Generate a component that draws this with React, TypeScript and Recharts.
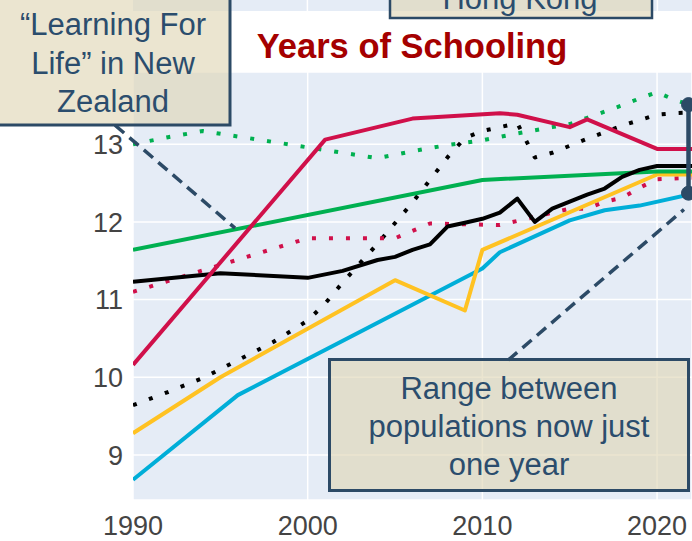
import React from "react"
import {
  LineChart,
  Line,
  XAxis,
  YAxis,
  CartesianGrid,
  ReferenceLine,
  ReferenceDot
} from "recharts"

// years of schooling by population
const xTicks = [1990, 2000, 2010, 2020]
const yTicks = [9, 10, 11, 12, 13]

const greenDotted = [
  [1990, 13.0], [1992, 13.09], [1994, 13.17], [1996, 13.1], [1998, 13.03],
  [2000, 12.96], [2002, 12.89], [2004, 12.82], [2006, 12.91], [2008, 12.99],
  [2010, 13.05], [2012, 13.14], [2014, 13.22], [2015, 13.26], [2016, 13.34],
  [2017, 13.42], [2018, 13.5], [2019, 13.59], [2020, 13.67], [2021, 13.57],
  [2022, 13.5]
]
const blackDotted = [
  [1990, 9.64], [1992, 9.81], [1994, 9.99], [1996, 10.22], [1998, 10.45],
  [2000, 10.73], [2001, 10.95], [2002, 11.22], [2004, 11.72], [2006, 12.25],
  [2008, 12.83], [2009, 13.08], [2010, 13.17], [2011, 13.22], [2012, 13.27],
  [2013, 12.83], [2014, 12.89], [2016, 13.07], [2018, 13.24], [2020, 13.38],
  [2021, 13.4], [2022, 13.41]
]
const crimsonDotted = [
  [1990, 11.1], [2000, 11.79], [2005, 11.79], [2007, 11.98], [2011, 11.96],
  [2015, 12.17], [2016, 12.17], [2017, 12.26], [2018, 12.31], [2019, 12.44],
  [2020, 12.55], [2022, 12.57]
]
const cyanSolid = [
  [1990, 8.68], [1996, 9.77], [2010, 11.4], [2011, 11.61], [2015, 12.02],
  [2017, 12.15], [2019, 12.21], [2022, 12.36]
]
const yellowSolid = [
  [1990, 9.28], [1995, 10.0], [2005, 11.25], [2009, 10.86], [2010, 11.64],
  [2020, 12.61], [2022, 12.61]
]
const greenSolid = [[1990, 11.64], [2010, 12.54], [2020, 12.65], [2022, 12.65]]
const blackSolid = [
  [1990, 11.23], [1995, 11.34], [2000, 11.28], [2002, 11.37], [2004, 11.51],
  [2005, 11.55], [2006, 11.64], [2007, 11.71], [2008, 11.94], [2009, 11.99],
  [2010, 12.04], [2011, 12.12], [2012, 12.3], [2013, 12.0], [2014, 12.17],
  [2015, 12.26], [2016, 12.35], [2017, 12.43], [2018, 12.58], [2019, 12.67],
  [2020, 12.72], [2022, 12.72]
]
const crimsonSolid = [
  [1990, 10.16], [2001, 13.06], [2006, 13.33], [2011, 13.4], [2012, 13.38],
  [2015, 13.22], [2016, 13.32], [2020, 12.94], [2022, 12.94]
]

// range marker at the right edge and the two callout pointers
const rangeYear = 2021.8
const rangeLow = 12.37
const rangeHigh = 13.51
const nzPointer = [[1988.97, 13.245], [1995.84, 11.92]]
const rangePointer = [[2011.47, 10.22], [2021.54, 12.16]]

const toPoints = (pairs: number[][]) => pairs.map(([year, value]) => ({ year, value }))

const series = [
  { key: "greenDotted", data: greenDotted, color: "#00b050", dotted: true },
  { key: "blackDotted", data: blackDotted, color: "#000000", dotted: true },
  { key: "crimsonDotted", data: crimsonDotted, color: "#d0104a", dotted: true },
  { key: "cyanSolid", data: cyanSolid, color: "#00aed8", dotted: false },
  { key: "yellowSolid", data: yellowSolid, color: "#ffc222", dotted: false },
  { key: "greenSolid", data: greenSolid, color: "#00b050", dotted: false },
  { key: "blackSolid", data: blackSolid, color: "#000000", dotted: false },
  { key: "crimsonSolid", data: crimsonSolid, color: "#d0104a", dotted: false }
]

const FONT = "'Liberation Sans', Arial, sans-serif"
const NAVY = "#2c4a66"
const TEXT = "#2b4d6d"
const BOX_FILL = "rgba(222,213,179,0.62)"
const PLOT_BG = "#e5ecf6"

export default function App() {
  const seg = (p: number[][]) => [
    { x: p[0][0], y: p[0][1] },
    { x: p[1][0], y: p[1][1] }
  ]

  return (
    <div style={{ position: "relative", width: 692, height: 541, overflow: "hidden", background: "#fff", fontFamily: FONT }}>
      <style>{"body{margin:0}"}</style>
      <LineChart width={692} height={541} margin={{ top: 72, right: 0, bottom: 0, left: 0 }}>
        <CartesianGrid fill={PLOT_BG} stroke="#ffffff" strokeWidth={1.5} />
        <XAxis
          dataKey="year"
          type="number"
          domain={[1990, 2022]}
          ticks={xTicks}
          allowDataOverflow
          height={41}
          axisLine={false}
          tickLine={false}
          tickSize={0}
          tickMargin={16}
          tick={{ fontSize: 27, fill: "#444444", fontFamily: FONT }}
        />
        <YAxis
          type="number"
          domain={[8.42, 13.93]}
          ticks={yTicks}
          allowDataOverflow
          width={133}
          axisLine={false}
          tickLine={false}
          tickSize={0}
          tickMargin={10}
          tick={{ fontSize: 27, fill: "#444444", fontFamily: FONT }}
        />
        {series.map((s) => (
          <Line
            key={s.key}
            data={toPoints(s.data)}
            dataKey="value"
            type="linear"
            stroke={s.color}
            strokeWidth={4}
            strokeDasharray={s.dotted ? "4 13" : undefined}
            strokeLinejoin="round"
            dot={false}
            activeDot={false}
            isAnimationActive={false}
          />
        ))}
        <ReferenceLine segment={seg(nzPointer)} stroke={NAVY} strokeWidth={3.5} strokeDasharray="12 7" ifOverflow="visible" />
        <ReferenceLine segment={seg(rangePointer)} stroke={NAVY} strokeWidth={3.5} strokeDasharray="12 7" ifOverflow="visible" />
        <ReferenceLine
          segment={[{ x: rangeYear, y: rangeLow }, { x: rangeYear, y: rangeHigh }]}
          stroke={NAVY}
          strokeWidth={4.5}
          ifOverflow="visible"
        />
        <ReferenceDot x={rangeYear} y={rangeLow} r={7} fill={NAVY} stroke={NAVY} strokeWidth={1} ifOverflow="visible" />
        <ReferenceDot x={rangeYear} y={rangeHigh} r={7} fill={NAVY} stroke={NAVY} strokeWidth={1} ifOverflow="visible" />
      </LineChart>

      <svg width={692} height={541} style={{ position: "absolute", left: 0, top: 0, pointerEvents: "none" }}>
        {/* bottom edge of the panel above */}
        <rect x={133} y={0} width={559} height={11} fill={PLOT_BG} />
        {[307.4, 482.7, 657.4].map((x) => (
          <line key={x} x1={x} x2={x} y1={0} y2={11} stroke="#fff" strokeWidth={1.5} />
        ))}

        <text x={412} y={58} textAnchor="middle" fontSize={34.5} fontWeight="bold" fill="#a50000" fontFamily={FONT}>
          Years of Schooling
        </text>

        <rect x={390} y={-40} width={262} height={58} fill={BOX_FILL} stroke={NAVY} strokeWidth={2.5} />
        <text x={520} y={9} textAnchor="middle" fontSize={31} fill={TEXT} fontFamily={FONT}>
          Hong Kong
        </text>

        <rect x={-10} y={-10} width={240} height={135} fill={BOX_FILL} stroke={NAVY} strokeWidth={3} />
        <text textAnchor="middle" fontSize={31} fill={TEXT} fontFamily={FONT}>
          <tspan x={113} y={35}>“Learning For</tspan>
          <tspan x={113} y={73.5}>Life” in New</tspan>
          <tspan x={113} y={112}>Zealand</tspan>
        </text>

        <rect x={329.5} y={359.5} width={359} height={131} fill={BOX_FILL} stroke={NAVY} strokeWidth={3} />
        <text textAnchor="middle" fontSize={31} fill={TEXT} fontFamily={FONT}>
          <tspan x={509} y={398.5}>Range between</tspan>
          <tspan x={509} y={437}>populations now just</tspan>
          <tspan x={509} y={475}>one year</tspan>
        </text>
      </svg>
    </div>
  )
}
